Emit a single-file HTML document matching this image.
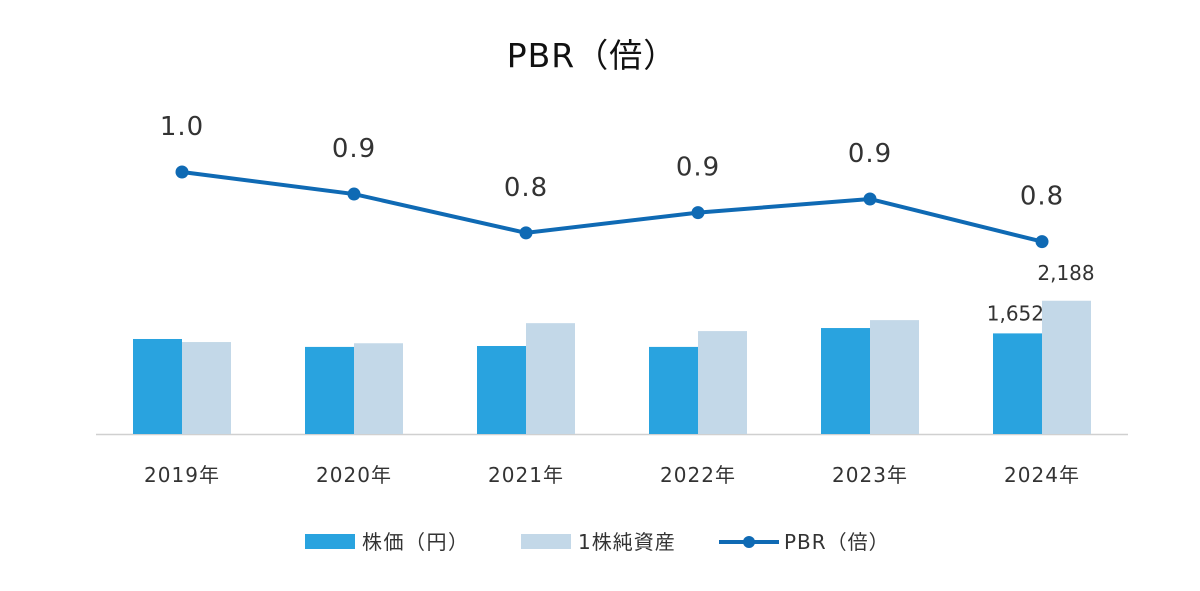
<!DOCTYPE html>
<html><head><meta charset="utf-8"><style>
body{margin:0;background:#fff;}
svg text{font-family:"DejaVu Sans","Noto Sans CJK JP",sans-serif;fill:#333;}
</style></head><body>
<svg width="1200" height="586" viewBox="0 0 1200 586">
<text x="592" y="67" font-size="33" text-anchor="middle" letter-spacing="1" style="fill:#111">PBR（倍）</text>
<line x1="96" y1="434.5" x2="1128" y2="434.5" stroke="#d0d0d0" stroke-width="1.5"/>
<g id="bars"></g><g id="line"></g><g id="labels"></g>
<g>
<rect x="305" y="534" width="50" height="15" fill="#29a3df"/>
<text x="362" y="549" font-size="20" letter-spacing="1.5">株価（円）</text>
<rect x="521" y="534" width="50" height="15" fill="#c3d8e8"/>
<text x="578" y="549" font-size="20" letter-spacing="1">1株純資産</text>
<line x1="719" y1="542" x2="779" y2="542" stroke="#0f6ab4" stroke-width="4"/>
<circle cx="749" cy="542" r="6" fill="#0f6ab4"/>
<text x="784" y="549" font-size="20" letter-spacing="1">PBR（倍）</text>
</g>
</svg>
<script>
const categories=["2019年","2020年","2021年","2022年","2023年","2024年"];
const stockPrice=[1560,1430,1445,1430,1740,1652];
const bookValue=[1510,1490,1820,1690,1870,2188];
const pbr=[1.0,0.924,0.79,0.86,0.907,0.76];
const ns="http://www.w3.org/2000/svg";
const xC=i=>182+i*172;
const yBar=v=>434-v*0.0609;
const yPbr=v=>172+(1.0-v)*290;
function mk(t,a,p){const e=document.createElementNS(ns,t);for(const k in a)e.setAttribute(k,a[k]);p.appendChild(e);return e;}
const bars=document.getElementById('bars'),line=document.getElementById('line'),labels=document.getElementById('labels');
categories.forEach((c,i)=>{
 const s=mk('rect',{x:xC(i)-49,y:yBar(stockPrice[i]),width:49,height:434-yBar(stockPrice[i]),fill:'#29a3df'},bars);
 
 
 const b=mk('rect',{x:xC(i),y:yBar(bookValue[i]),width:49,height:434-yBar(bookValue[i]),fill:'#c3d8e8'},bars);
 
 
 const t=mk('text',{x:xC(i),y:482,'font-size':20,'text-anchor':'middle','letter-spacing':1},labels);t.textContent=c;
 
 
});
const pts=pbr.map((v,i)=>xC(i)+','+yPbr(v)).join(' ');
const pl=mk('polyline',{points:pts,fill:'none',stroke:'#0f6ab4','stroke-width':4},line);


pbr.forEach((v,i)=>{
 const c=mk('circle',{cx:xC(i),cy:yPbr(v),r:6.5,fill:'#0f6ab4'},line);
 
 
 const t=mk('text',{x:xC(i),y:yPbr(v)-37,'font-size':26,'text-anchor':'middle','letter-spacing':1},labels);
 t.textContent=(Math.round(v*10)/10).toFixed(1);
 
 
});
const n=categories.length-1;
const l1=mk('text',{x:xC(n)+2,y:yBar(stockPrice[n])-13,'font-size':20,'text-anchor':'end'},labels);
l1.textContent=stockPrice[n].toLocaleString('en-US');


const l2=mk('text',{x:xC(n)+24,y:yBar(bookValue[n])-21,'font-size':20,'text-anchor':'middle'},labels);
l2.textContent=bookValue[n].toLocaleString('en-US');


</script>
</body></html>
